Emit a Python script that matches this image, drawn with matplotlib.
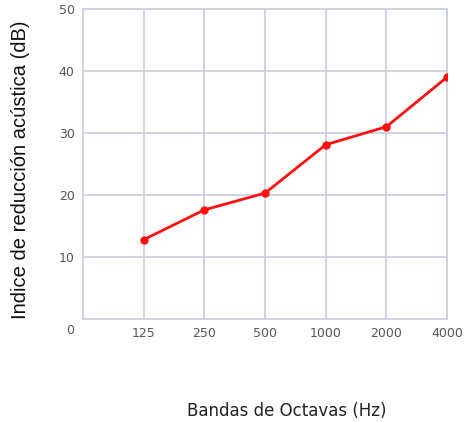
import matplotlib.pyplot as plt

# octave bands and sound reduction index
bands = ["125", "250", "500", "1000", "2000", "4000"]
reduction_db = [12.8, 17.6, 20.3, 28.1, 31.0, 39.0]
y_ticks = [10, 20, 30, 40, 50]

fig = plt.figure(figsize=(4.65, 4.22), dpi=100)
ax = fig.add_axes([0.1785, 0.244, 0.783, 0.735])

pos = list(range(1, len(bands) + 1))
ax.plot(pos, reduction_db, color="#ff1010", lw=2, marker="o", ms=5, zorder=3)

ax.set_xlim(0, len(bands))
ax.set_ylim(0, 50)
ax.set_xticks(pos)
ax.set_xticklabels(bands)
ax.set_yticks(y_ticks)

grid_col = "#c9cbe0"
ax.grid(True, color=grid_col, lw=1.2)
ax.set_axisbelow(True)
for s in ax.spines.values():
    s.set_color(grid_col)
    s.set_linewidth(1.2)

ax.tick_params(length=0, labelsize=9, labelcolor="#555555", pad=6)
# the zero sits on the x-label row, left of the axis
ax.annotate("0", xy=(0, 0), xytext=(-13, -11), textcoords="offset pixels",
            ha="center", va="center", fontsize=9, color="#555555")

ax.set_ylabel("Indice de reducción acústica (dB)", family="Liberation Sans",
              fontsize=14.5, color="#111111")
ax.yaxis.set_label_coords(-0.145, 0.48)
ax.set_xlabel("Bandas de Octavas (Hz)", fontsize=12, color="#222222")
ax.xaxis.set_label_coords(0.56, -0.268)

plt.savefig("out.png", dpi=100)
plt.close()
